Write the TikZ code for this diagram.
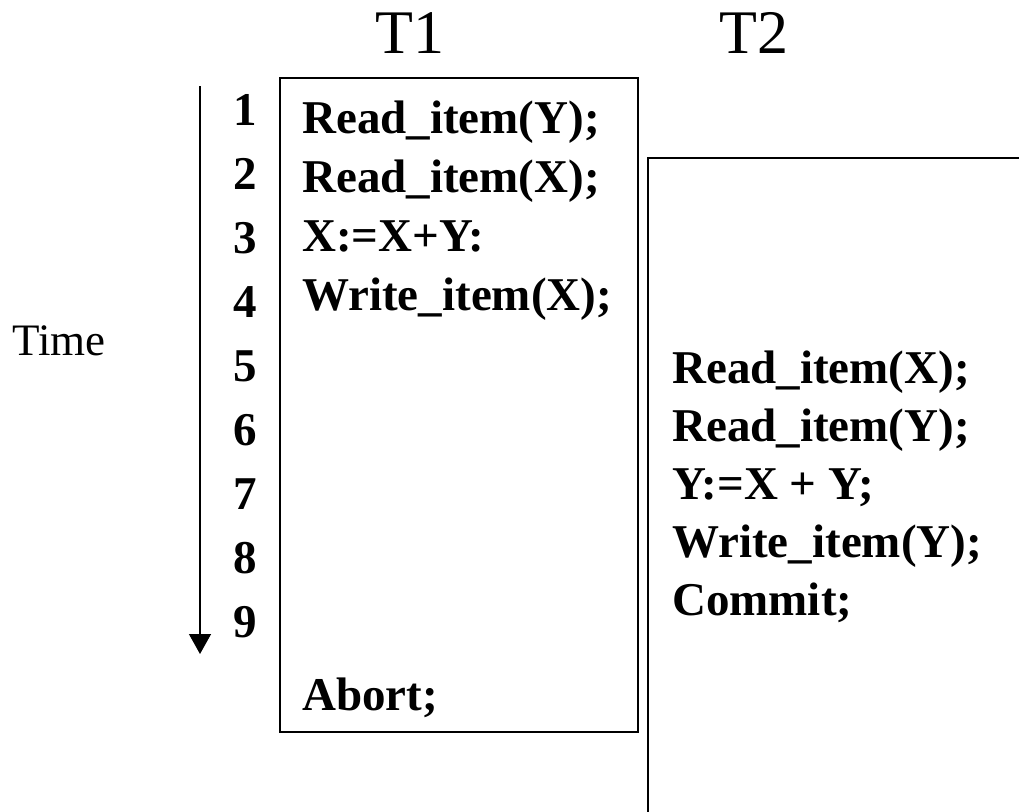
\documentclass[tikz,border=0pt]{standalone}
\usepackage{fontspec}
\setmainfont{Liberation Serif}
\usetikzlibrary{arrows.meta}
\begin{document}
\begin{tikzpicture}[x=1pt,y=-1pt,
  code/.style={font=\fontsize{47}{56}\selectfont\bfseries, inner sep=0pt, anchor=base west},
  num/.style={font=\fontsize{47}{56}\selectfont\bfseries, inner sep=0pt, anchor=base},
  head/.style={font=\fontsize{62}{70}\selectfont, inner sep=0pt, anchor=base},
  lbl/.style={font=\fontsize{45}{52}\selectfont, inner sep=0pt, anchor=base west},
  frame/.style={line width=1.6pt}]
\useasboundingbox (0,0) rectangle (1019,811);
% headers
\node[head] (h1) at (410,53) {T1};
\node[head] (h2) at (754,53) {T2};
% time label and arrow
\node[lbl] (time) at (12,355) {Time};
\coordinate (tA) at (200,86);
\coordinate (tB) at (200,654);
\draw[line width=1.3pt, -{Triangle[length=20pt,width=22pt]}] (tA) -- (tB);
% step numbers
\foreach \i in {1,...,9} {
  \node[num] (n\i) at (245,{125+64*(\i-1)}) {\i};
}
% T1 box
\node[draw, frame, inner sep=0pt, minimum width=358pt, minimum height=654pt, anchor=north west] (box1) at (279,77) {};
\node[code] (a1) at (302,133) {Read\_item(Y);};
\node[code] (a2) at (302,192) {Read\_item(X);};
\node[code] (a3) at (302,251) {X:=X+Y:};
\node[code] (a4) at (302,310) {Write\_item(X);};
\node[code] (a5) at (302,710) {Abort;};
% T2 open box
\coordinate (c1) at (648,815);
\coordinate (c2) at (648,158);
\coordinate (c3) at (1025,158);
\draw[frame] (c1) -- (c2) -- (c3);
\node[code] (b1) at (672,383) {Read\_item(X);};
\node[code] (b2) at (672,441) {Read\_item(Y);};
\node[code] (b3) at (672,499) {Y:=X + Y;};
\node[code] (b4) at (672,557) {Write\_item(Y);};
\node[code] (b5) at (672,615) {Commit;};
\end{tikzpicture}
\end{document}
